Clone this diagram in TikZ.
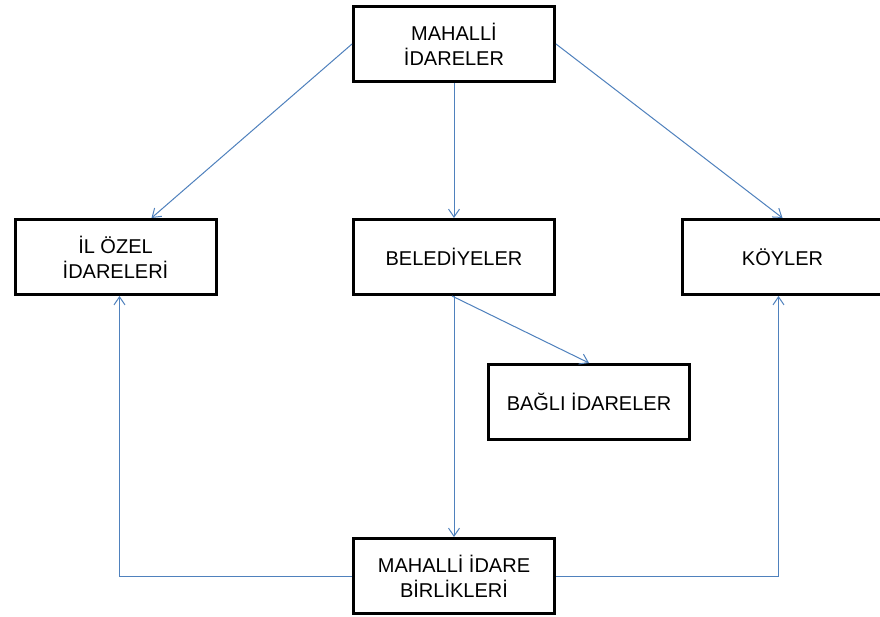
\documentclass[tikz,border=0pt]{standalone}
\usepackage{fontspec}
\setmainfont{Liberation Sans}
\usetikzlibrary{arrows.meta,calc}
\definecolor{conn}{RGB}{79,129,189}
\begin{document}
\begin{tikzpicture}[x=1pt,y=-1pt,
  box/.style={draw=black,line width=3pt,fill=white,minimum width=201pt,minimum height=75pt,inner sep=0pt,align=center,font=\fontsize{20}{25}\selectfont},
  arr/.style={draw=conn,line width=1pt,-{Straight Barb[length=8pt,width=11pt,line width=1pt]}}]
\clip (0,0) rectangle (880,617);
\fill[white] (0,0) rectangle (880,617);
\node[box] (top) at (454,44) {MAHALLİ\\İDARELER};
\node[box] (il) at (115.5,257) {İL ÖZEL\\İDARELERİ};
\node[box] (bel) at (454,257) {BELEDİYELER};
\node[box] (koy) at (782.5,257) {KÖYLER};
\node[box] (bagli) at (589,402) {BAĞLI İDARELER};
\node[box] (bot) at (454,576) {MAHALLİ İDARE\\BİRLİKLERİ};
\draw[arr] (top.west) -- ([xshift=36pt]il.north);
\draw[arr] (top.south) -- (bel.north);
\draw[arr] (top.east) -- (koy.north);
\draw[arr] (bel.south) -- (bot.north);
\draw[arr] ([xshift=-2pt]bel.south) -- (bagli.north);
\draw[arr] (bot.west) -| ([xshift=4pt]il.south);
\draw[arr] (bot.east) -| ([xshift=-4pt]koy.south);
\end{tikzpicture}
\end{document}
